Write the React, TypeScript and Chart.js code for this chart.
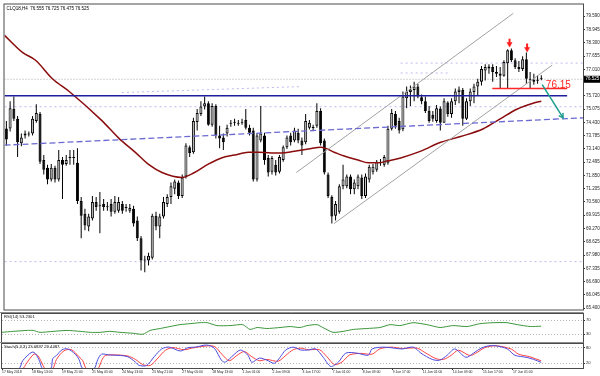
import React, { useEffect, useRef } from 'react';
import { Chart, registerables } from 'chart.js';

Chart.register(...registerables);

// ---------------- text ----------------
const TITLE = 'CLQ18,H4  76.555 76.725 76.475 76.525';
const RSI_TITLE = 'RSI(14) 53.2301';
const STOCH_TITLE = 'Stoch(5,3,3) 23.6897 29.4487';
const NECK_TEXT = '76.15';

// ---------------- candles (H4) ----------------
const opens = [
  74.13, 74.13, 75.08, 74.60, 73.41, 73.79, 73.84, 73.89, 74.50, 74.84,
  72.60, 72.22, 71.65, 72.22, 71.65, 72.60, 72.41, 72.70, 72.70, 72.46,
  70.61, 69.99, 69.37, 69.75, 70.56, 70.37, 70.46, 70.32, 70.46, 70.08,
  70.13, 70.46, 70.32, 70.13, 70.23, 69.66, 68.80, 67.74, 67.71, 67.85,
  69.89, 69.37, 69.85, 70.46, 70.80, 71.20, 71.50, 70.85, 71.80, 73.22,
  72.98, 74.45, 74.84, 75.20, 75.36, 74.31, 75.22, 73.79, 73.69, 73.89,
  74.36, 74.41, 74.36, 74.41, 74.55, 74.17, 74.03, 71.65, 73.55, 73.79,
  72.70, 72.03, 72.37, 72.03, 72.60, 73.22, 73.79, 73.55, 73.93, 73.55,
  73.46, 74.17, 74.17, 74.27, 74.98, 73.55, 71.89, 70.80, 69.89, 70.08,
  71.32, 71.32, 71.80, 71.18, 71.32, 71.75, 70.85, 71.65, 72.03, 72.13,
  72.46, 72.37, 72.46, 74.12, 74.84, 74.50, 74.10, 75.60, 75.90, 76.00,
  76.17, 75.65, 75.46, 75.00, 74.80, 74.50, 75.10, 74.41, 75.40, 74.84,
  75.46, 75.90, 76.00, 74.60, 75.46, 75.90, 76.17, 76.41, 76.95, 77.05,
  77.12, 76.88, 76.80, 76.70, 77.30, 77.93, 77.45, 77.12, 77.02, 77.50,
  76.55, 76.50, 76.45, 76.555,
];
const highs = [
  74.50, 75.46, 75.69, 74.74, 73.89, 74.03, 73.98, 74.74, 75.31, 74.93,
  72.84, 72.37, 72.41, 72.32, 73.08, 72.75, 72.84, 73.08, 73.08, 73.17,
  70.80, 70.23, 69.99, 70.85, 70.80, 71.04, 70.70, 70.56, 70.70, 70.85,
  70.80, 70.61, 70.46, 70.46, 70.37, 69.85, 68.90, 67.95, 68.09, 69.99,
  70.08, 69.99, 70.80, 70.94, 71.51, 71.65, 71.60, 71.89, 73.41, 73.31,
  74.65, 75.08, 75.45, 75.69, 75.46, 75.36, 75.31, 74.27, 73.89, 74.31,
  74.55, 74.60, 74.55, 74.60, 75.08, 74.31, 74.17, 73.89, 75.22, 73.93,
  72.84, 72.79, 72.60, 72.84, 73.31, 73.79, 73.93, 74.17, 74.12, 73.69,
  74.84, 74.55, 74.31, 75.36, 75.12, 73.65, 71.99, 70.89, 70.61, 71.42,
  72.37, 71.89, 71.89, 71.65, 71.89, 71.89, 71.94, 72.37, 72.41, 72.60,
  72.65, 72.84, 74.27, 75.08, 74.98, 74.65, 75.93, 76.17, 76.22, 76.41,
  76.31, 75.79, 75.69, 75.22, 74.98, 75.27, 75.20, 75.60, 75.45, 75.60,
  76.07, 76.17, 76.10, 75.60, 76.07, 76.31, 76.55, 77.17, 77.26, 77.26,
  77.26, 77.17, 77.12, 77.45, 77.99, 78.02, 77.55, 77.41, 77.64, 77.83,
  76.88, 76.79, 76.69, 76.725,
];
const lows = [
  73.31, 73.98, 74.50, 72.75, 73.27, 73.65, 73.74, 73.79, 74.41, 72.41,
  71.89, 71.42, 71.56, 71.51, 71.56, 70.70, 72.32, 72.37, 72.37, 70.46,
  68.80, 69.18, 69.13, 69.66, 70.13, 69.04, 70.13, 70.13, 69.85, 69.99,
  70.04, 69.99, 70.08, 70.04, 69.37, 68.66, 67.23, 67.14, 67.47, 67.76,
  69.18, 68.80, 69.75, 70.32, 70.46, 70.94, 70.70, 70.75, 71.70, 72.75,
  72.90, 74.03, 74.74, 75.05, 74.27, 74.22, 73.65, 73.17, 73.08, 73.74,
  74.22, 74.27, 74.27, 74.31, 74.08, 73.79, 71.56, 71.56, 73.46, 72.37,
  71.80, 71.89, 71.84, 71.94, 72.51, 73.13, 73.31, 73.46, 73.41, 72.84,
  73.36, 74.08, 74.03, 74.17, 73.31, 71.89, 70.75, 69.51, 69.66, 69.99,
  71.18, 71.23, 70.94, 70.94, 71.18, 70.70, 70.75, 71.51, 71.89, 72.03,
  72.32, 72.27, 72.37, 74.03, 74.12, 73.89, 74.00, 75.12, 75.22, 75.46,
  75.60, 75.31, 74.88, 74.41, 74.46, 74.41, 74.03, 74.41, 74.70, 74.65,
  75.27, 75.36, 74.27, 74.55, 75.22, 75.36, 75.74, 76.22, 76.46, 76.79,
  76.41, 76.64, 76.07, 76.65, 76.07, 77.36, 77.02, 76.88, 76.93, 76.31,
  76.07, 76.26, 76.31, 76.475,
];
const closes = [
  73.60, 75.12, 74.60, 73.46, 73.69, 73.89, 73.89, 74.60, 74.88, 72.51,
  72.13, 71.65, 72.22, 71.65, 72.60, 72.37, 72.60, 72.75, 72.70, 70.61,
  69.89, 69.42, 69.85, 70.56, 70.32, 70.35, 70.32, 70.30, 70.08, 70.56,
  70.56, 70.13, 70.27, 70.27, 69.51, 68.80, 67.71, 67.71, 67.95, 69.89,
  69.37, 69.85, 70.56, 70.80, 71.32, 71.55, 70.85, 71.75, 73.31, 72.94,
  74.50, 74.88, 75.20, 75.36, 74.31, 75.22, 73.79, 73.65, 73.46, 74.17,
  74.41, 74.43, 74.41, 74.46, 74.17, 73.93, 71.65, 73.79, 73.89, 72.60,
  71.99, 72.70, 71.99, 72.75, 73.22, 73.69, 73.46, 74.03, 73.55, 73.31,
  74.50, 74.41, 74.15, 74.98, 73.41, 71.99, 70.85, 69.85, 70.46, 71.32,
  71.65, 71.80, 71.18, 71.51, 71.80, 70.85, 71.80, 72.27, 72.27, 72.51,
  72.44, 72.75, 74.12, 74.88, 74.27, 74.03, 75.69, 75.93, 76.03, 76.17,
  75.69, 75.46, 74.98, 74.50, 74.60, 75.12, 74.41, 75.46, 74.84, 75.46,
  75.93, 76.03, 74.60, 75.46, 75.93, 76.17, 76.41, 77.02, 77.12, 77.15,
  76.88, 76.79, 76.70, 77.36, 77.93, 77.45, 77.12, 77.02, 77.50, 76.55,
  76.50, 76.41, 76.48, 76.525,
];

// ---------------- axes ----------------
const priceTicks = [
  79.59, 78.945, 78.3, 77.655, 77.01, 75.72, 75.075, 74.43, 73.785, 73.14, 72.495,
  71.85, 71.205, 70.56, 69.915, 69.27, 68.625, 67.98, 67.335, 66.69, 66.045, 65.4,
];
const timeLabels = [
  '17 May 2018', '18 May 13:00', '19 May 21:00', '21 May 05:00', '24 May 13:00', '25 May 21:00',
  '27 May 05:00', '28 May 13:00', '1 Jun 01:00', '2 Jun 09:00', '3 Jun 17:00', '7 Jun 01:00',
  '8 Jun 09:00', '9 Jun 17:00', '11 Jun 01:00', '14 Jun 09:00', '15 Jun 17:00', '17 Jun 01:00',
];
const timeTickBars = [
  -0.5, 7.5, 15.5, 23.5, 31.5, 39.5, 47.5, 55.5, 63.5, 71.5, 79.5, 87.5, 95.5, 103.5, 111.5, 119.5, 127.5, 135.5,
];

// ---------------- moving average ----------------
const maBars = [
  -0.5, 4.3, 7.8, 12.3, 16.8, 25.6, 30.1, 34.4, 38.1, 41.6, 46.9, 50.3, 54.1, 57.5, 61, 64.7, 67.4, 70.8,
  73.5, 77, 80.7, 84.1, 87.6, 90.3, 94, 96.7, 99.3, 102, 105.4, 110.8, 116.1, 121.4, 127.5, 132, 136.6,
  140.8, 143,
];
const maValues = [
  78.66, 77.83, 77.45, 76.55, 75.93, 74.5, 73.65, 72.98, 72.37, 71.99, 71.75, 71.99, 72.41, 72.7, 72.84,
  72.98, 72.98, 72.94, 72.94, 73.03, 73.13, 73.22, 72.98, 72.79, 72.6, 72.46, 72.46, 72.56, 72.7, 73.03,
  73.46, 73.74, 74.12, 74.6, 75.08, 75.36, 75.46,
];

// ---------------- drawn objects ----------------
const resistanceLevel = 75.72;
const resistanceBars = [-0.5, 149.9];
const necklineLevel = 76.07;
const necklineBars = [129.9, 149.9];
const neckTextBar = 144.2;
const neckTextLevel = 76.12;
const trendBars = [-0.5, 154.14];
const trendValues = [73.32, 74.65];
const channelUpperBars = [77.5, 135.5];
const channelUpperValues = [71.99, 79.73];
const channelLowerBars = [87.6, 145.9];
const channelLowerValues = [69.51, 77.21];
const arrowBars = [134.5, 139.2];
const arrowHeadValues = [78.235, 77.998];
const arrowStemValues = [78.378, 78.14];
const forecastBars = [143.23, 148.82];
const forecastValues = [76.26, 74.65];
const forecastHeadBars = [148.78, 148.82, 147.65];
const forecastHeadValues = [74.89, 74.65, 74.76];
const faintLevels = [75.19, 67.66];
const faintSegBars = [105.4, 154.14];
const faintSegLevel = 77.31;
const faintSeg2Bars = [105.4, 118.7];
const faintSeg2Level = 76.83;
const faintSlopeBars = [30.9, 78.8];
const faintSlopeValues = [75.88, 76.17];

// ---------------- RSI ----------------
const rsiBars = [
  -0.5, 2.4, 6.2, 7.8, 9.6, 13.1, 16.8, 20.3, 23, 25.6, 28.2, 30.9, 34.4, 37, 38.9, 41.6, 44.2, 46.9,
  49.5, 52.2, 54.1, 56.7, 60.2, 63.6, 65.5, 67.4, 70, 73.5, 76.2, 78.8, 80.7, 83.3, 84.9, 87.6, 90.3,
  93, 96.6, 100.1, 102.8, 105.4, 108.9, 112.6, 116.1, 119.5, 123.3, 126.7, 130.2, 133.9, 136.6, 140.1, 143,
];
const rsiValues = [
  35.5, 38.3, 41.0, 41.0, 35.5, 38.3, 41.0, 38.3, 35.5, 35.5, 38.3, 35.5, 32.8, 30.0, 41.0, 46.5, 52.1,
  57.6, 60.3, 63.1, 63.1, 54.8, 54.8, 57.6, 43.8, 49.3, 46.5, 49.3, 52.1, 49.3, 54.8, 57.6, 49.3, 35.5,
  38.3, 43.8, 46.5, 49.3, 57.6, 54.8, 63.1, 57.6, 49.3, 54.8, 52.1, 60.3, 63.1, 63.1, 57.6, 52.1, 53.2,
];
const rsiLevels = [30, 70];

// ---------------- Stochastic ----------------
const stochMainBars = [
  -0.5, 4, 5, 7.5, 8.5, 9.5, 10.3, 12.5, 13, 14, 15.5, 17, 19, 20, 21, 24, 25, 26, 28, 31, 33, 35, 36,
  38, 40, 42, 44, 47, 49, 51, 54, 56, 58, 59, 61, 63, 65, 66, 68, 70, 72, 73.5, 75, 77, 79, 81, 83, 85,
  87, 89, 91, 94, 97, 98, 101, 104, 106, 109, 111, 114, 116, 118, 120, 123, 125, 127, 129, 131, 134,
  136, 139, 141, 143,
];
const stochMainValues = [
  0, 0, 30, 63, 55, 28, 0, 0, 38, 50, 72, 75, 55, 35, 0, 0, 35, 55, 52, 50, 45, 25, 12, 12, 45, 75, 82,
  67, 80, 82, 90, 78, 30, 25, 50, 71, 50, 24, 40, 32, 20, 43, 71, 82, 71, 71, 75, 43, 8, 24, 59, 59, 51,
  75, 82, 78, 75, 82, 59, 35, 32, 51, 75, 43, 59, 78, 87, 87, 75, 51, 43, 35, 23.7,
];
const stochSignalBars = [
  -0.5, 5, 6, 8, 9, 10, 11, 13, 14, 16, 18, 20, 21, 22, 25, 26, 27, 30, 33, 35, 37, 39, 41, 43, 45, 48,
  50, 53, 56, 58, 60, 62, 64, 66, 68, 70, 73, 75, 77, 79, 81, 84, 86, 88, 90, 92, 95, 98, 100, 103, 106,
  110, 112, 115, 117, 119, 121, 124, 126, 128, 131, 135, 137, 140, 143,
];
const stochSignalValues = [
  0, 0, 20, 55, 50, 25, 0, 0, 35, 68, 72, 45, 30, 0, 0, 30, 50, 52, 48, 35, 15, 12, 40, 70, 80, 72, 78,
  85, 85, 55, 30, 50, 65, 45, 30, 35, 28, 50, 72, 78, 72, 72, 45, 15, 25, 52, 58, 55, 75, 82, 77, 78, 62,
  38, 35, 50, 70, 50, 62, 80, 87, 75, 55, 45, 29.45,
];
const stochLevels = [20, 80];

// ---------------- layout constants ----------------
const FONT = "'Liberation Sans', Arial, sans-serif";
const X_MIN = -0.5;
const X_MAX = 154.14;
const AXIS_W = 17;
const P_MIN = 65.331;
const P_MAX = 80.16;

Chart.defaults.font.family = FONT;

const xy = (xs: number[], ys: number[]) => xs.map((x, k) => ({ x, y: ys[k] }));
const flat = (xs: number[], v: number) => xs.map((x) => ({ x, y: v }));

const line = (data: any[], color: string, width: number, order: number, extra: any = {}) => ({
  type: 'line',
  data,
  borderColor: color,
  backgroundColor: color,
  borderWidth: width,
  pointRadius: 0,
  pointHoverRadius: 0,
  fill: false,
  order,
  ...extra,
});

const makeFrame = (thickTop: boolean) => ({
  id: 'panelFrame',
  afterDraw(chart: any) {
    const { ctx, chartArea: a } = chart;
    ctx.save();
    ctx.lineWidth = 1;
    ctx.strokeStyle = '#4a4a4a';
    ctx.strokeRect(a.left - 0.5, a.top - 0.5, a.right - a.left + 1, a.bottom - a.top + 1);
    if (thickTop) {
      ctx.strokeStyle = '#8c8c8c';
      ctx.beginPath();
      ctx.moveTo(0, a.top - 1.5);
      ctx.lineTo(a.right + 0.5, a.top - 1.5);
      ctx.stroke();
    }
    ctx.restore();
  },
});

const panelLabel = (text: string) => ({
  id: 'panelLabel',
  afterDraw(chart: any) {
    const { ctx, chartArea: a } = chart;
    ctx.save();
    ctx.font = `4.2px ${FONT}`;
    ctx.fillStyle = '#111';
    ctx.textBaseline = 'middle';
    ctx.textAlign = 'left';
    ctx.fillText(text, a.left + 2, a.top + 3.2);
    ctx.restore();
  },
});

const mainText = {
  id: 'mainText',
  afterDraw(chart: any) {
    const { ctx, chartArea: a, scales } = chart;
    const xs = scales.x;
    const ys = scales.y;
    ctx.save();
    ctx.textAlign = 'left';
    ctx.font = `4.5px ${FONT}`;
    ctx.fillStyle = '#000';
    ctx.textBaseline = 'middle';
    ctx.fillText(TITLE, a.left + 2, a.top + 4);
    ctx.font = `10px ${FONT}`;
    ctx.fillStyle = '#ff2626';
    ctx.textBaseline = 'alphabetic';
    ctx.fillText(NECK_TEXT, xs.getPixelForValue(neckTextBar), ys.getPixelForValue(neckTextLevel));
    const last = closes[closes.length - 1];
    const py = ys.getPixelForValue(last);
    ctx.fillStyle = '#000';
    ctx.fillRect(a.right + 1, py - 3.5, chart.width - a.right - 1, 7);
    ctx.fillStyle = '#fff';
    ctx.font = `4.5px ${FONT}`;
    ctx.textBaseline = 'middle';
    ctx.fillText(last.toFixed(3), a.right + 2.5, py);
    ctx.restore();
  },
};

const rightAxis = (min: number, max: number, ticksArr: number[], fmt: any, grid: any, size: number) => ({
  position: 'right',
  min,
  max,
  beginAtZero: false,
  afterFit: (s: any) => {
    s.width = AXIS_W;
    s.paddingTop = 0;
    s.paddingBottom = 0;
  },
  afterBuildTicks: (s: any) => {
    s.ticks = ticksArr.map((v) => ({ value: v }));
  },
  ticks: { autoSkip: false, padding: 1, color: '#1a1a1a', font: { family: FONT, size }, callback: fmt },
  grid,
  border: { display: false, dash: [1, 2] },
});

const hiddenX = () => ({
  type: 'linear',
  min: X_MIN,
  max: X_MAX,
  offset: false,
  display: false,
  grid: { offset: false, display: false },
});

const baseOptions = (padding: any) => ({
  responsive: false,
  maintainAspectRatio: false,
  animation: false,
  events: [],
  devicePixelRatio: 1,
  layout: { padding },
  plugins: { legend: { display: false }, tooltip: { enabled: false }, title: { display: false } },
});

export default function App() {
  const mainRef = useRef<HTMLCanvasElement>(null);
  const rsiRef = useRef<HTMLCanvasElement>(null);
  const stRef = useRef<HTMLCanvasElement>(null);

  useEffect(() => {
    const idx = opens.map((_, i) => i);
    const bodyData = idx.map((i) => ({ x: i, y: [opens[i], closes[i]] }));
    const wickData = idx.map((i) => ({ x: i, y: [lows[i], highs[i]] }));
    const isBull = (i: number) => closes[i] >= opens[i];
    const lastClose = closes[closes.length - 1];
    const lav = '#bcbcee';

    const main = new Chart(mainRef.current as any, {
      type: 'bar',
      data: {
        datasets: [
          // red arrows
          line(xy(arrowBars, arrowHeadValues), '#ff1e1e', 0, 0, {
            showLine: false,
            pointStyle: 'triangle',
            rotation: 180,
            pointRadius: 3,
            pointBorderWidth: 0.5,
            pointBackgroundColor: '#ff1e1e',
            pointBorderColor: '#ff1e1e',
          }),
          line(xy(arrowBars, arrowStemValues), '#ff1e1e', 0, 0, {
            showLine: false,
            pointStyle: 'line',
            rotation: 90,
            pointRadius: 2.5,
            pointBorderWidth: 2,
            pointBorderColor: '#ff1e1e',
          }),
          // forecast arrow
          line(xy(forecastBars, forecastValues), '#1f9d8e', 1.5, 0),
          line(xy(forecastHeadBars, forecastHeadValues), '#1f9d8e', 1.5, 0),
          // objects
          line(flat(necklineBars, necklineLevel), '#ff2626', 1.5, 1),
          line(flat(resistanceBars, resistanceLevel), '#1f1f9e', 1.5, 1),
          line(xy(trendBars, trendValues), '#6a6ad2', 1.3, 1, { borderDash: [6, 3] }),
          line(xy(channelUpperBars, channelUpperValues), '#a2a2a2', 1, 1),
          line(xy(channelLowerBars, channelLowerValues), '#a2a2a2', 1, 1),
          // moving average
          line(xy(maBars, maValues), '#8a0c0c', 1.5, 5, { cubicInterpolationMode: 'monotone' }),
          // candles
          {
            type: 'bar',
            data: bodyData,
            grouped: false,
            barThickness: 3,
            minBarLength: 1,
            borderWidth: 1,
            borderSkipped: false,
            inflateAmount: 0,
            borderColor: '#000',
            backgroundColor: (c: any) => (isBull(c.dataIndex) ? '#c4c4c4' : '#000000'),
            order: 20,
          },
          {
            type: 'bar',
            data: wickData,
            grouped: false,
            barThickness: 1,
            borderWidth: 0,
            inflateAmount: 0,
            backgroundColor: '#000',
            order: 21,
          },
          // faint dotted lines
          line(flat([X_MIN, X_MAX], lastClose), '#a8a8a8', 1, 30, { borderDash: [1, 2] }),
          line(flat([X_MIN, X_MAX], faintLevels[0]), lav, 1, 30, { borderDash: [2, 3] }),
          line(flat([X_MIN, X_MAX], faintLevels[1]), lav, 1, 30, { borderDash: [2, 3] }),
          line(flat(faintSegBars, faintSegLevel), lav, 1, 30, { borderDash: [2, 3] }),
          line(flat(faintSeg2Bars, faintSeg2Level), lav, 1, 30, { borderDash: [2, 3] }),
          line(xy(faintSlopeBars, faintSlopeValues), lav, 1, 30, { borderDash: [2, 3] }),
        ] as any,
      },
      options: {
        ...baseOptions({ left: 2, top: 1, right: 0, bottom: 1 }),
        scales: {
          x: hiddenX(),
          y: rightAxis(
            P_MIN,
            P_MAX,
            priceTicks,
            (v: any) => Number(v).toFixed(3),
            { display: true, drawOnChartArea: false, drawTicks: true, tickLength: 2, color: '#333' },
            4.5,
          ),
        },
      } as any,
      plugins: [makeFrame(false), mainText],
    });

    const rsi = new Chart(rsiRef.current as any, {
      type: 'line',
      data: {
        datasets: [
          line(xy(rsiBars, rsiValues), '#3b963b', 1, 0, { tension: 0.2 }),
        ] as any,
      },
      options: {
        ...baseOptions({ left: 2, top: 2, right: 0, bottom: 1 }),
        scales: {
          x: hiddenX(),
          y: rightAxis(
            5,
            88,
            rsiLevels,
            (v: any) => String(v),
            { display: true, drawOnChartArea: true, drawTicks: true, tickLength: 2, color: '#b4b4b4', tickColor: '#333' },
            4.2,
          ),
        },
      } as any,
      plugins: [makeFrame(true), panelLabel(RSI_TITLE)],
    });

    const stoch = new Chart(stRef.current as any, {
      type: 'line',
      data: {
        datasets: [
          line(xy(stochSignalBars, stochSignalValues), '#ff4040', 1, 1, { tension: 0.3, clip: 0 }),
          line(xy(stochMainBars, stochMainValues), '#4c4ce0', 1, 0, { tension: 0.3, clip: 0 }),
        ] as any,
      },
      options: {
        ...baseOptions({ left: 2, top: 2, right: 0, bottom: 0 }),
        scales: {
          x: {
            type: 'linear',
            min: X_MIN,
            max: X_MAX,
            offset: false,
            position: 'bottom',
            afterFit: (s: any) => {
              s.height = 8;
              s.paddingLeft = 0;
              s.paddingRight = 0;
            },
            afterBuildTicks: (s: any) => {
              s.ticks = timeTickBars.map((v) => ({ value: v }));
            },
            ticks: {
              autoSkip: false,
              maxRotation: 0,
              minRotation: 0,
              align: 'start',
              padding: 0.5,
              color: '#1a1a1a',
              font: { family: FONT, size: 3.4 },
              callback: (_v: any, i: number) => timeLabels[i],
            },
            grid: { offset: false, drawOnChartArea: false, drawTicks: true, tickLength: 2, color: '#333' },
            border: { display: false },
          },
          y: rightAxis(
            2,
            94,
            stochLevels,
            (v: any) => String(v),
            { display: true, drawOnChartArea: true, drawTicks: true, tickLength: 2, color: '#b4b4b4', tickColor: '#333' },
            4.2,
          ),
        },
      } as any,
      plugins: [makeFrame(true), panelLabel(STOCH_TITLE)],
    });

    return () => {
      main.destroy();
      rsi.destroy();
      stoch.destroy();
    };
  }, []);

  return (
    <div
      style={{
        position: 'fixed',
        left: 0,
        top: 0,
        width: 600,
        height: 376,
        background: '#ffffff',
        overflow: 'hidden',
      }}
    >
      <canvas
        ref={mainRef}
        width={600}
        height={314}
        style={{ position: 'absolute', left: 0, top: 0, width: 600, height: 314 }}
      />
      <canvas
        ref={rsiRef}
        width={600}
        height={32}
        style={{ position: 'absolute', left: 0, top: 312, width: 600, height: 32 }}
      />
      <canvas
        ref={stRef}
        width={600}
        height={34}
        style={{ position: 'absolute', left: 0, top: 342, width: 600, height: 34 }}
      />
    </div>
  );
}
